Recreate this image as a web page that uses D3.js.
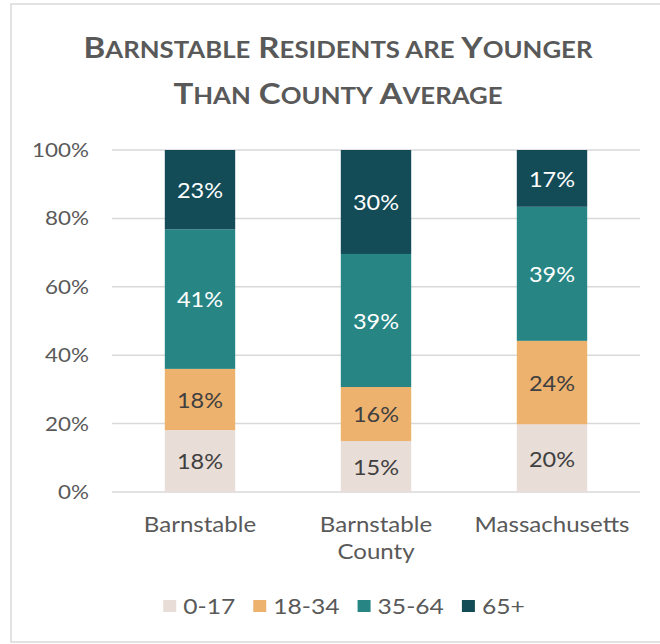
<!DOCTYPE html>
<html><head><meta charset="utf-8">
<script src="https://cdn.jsdelivr.net/npm/d3@7"></script>
<style>body{margin:0;background:#fff} svg{display:block}</style>
</head><body>
<script>
// ---- data ----
const categories = ["Barnstable", "Barnstable County", "Massachusetts"];
const ageGroups = ["0-17", "18-34", "35-64", "65+"];
const age0to17  = [18.1, 14.9, 19.8];
const age18to34 = [17.9, 15.8, 24.4];
const age35to64 = [40.8, 38.9, 39.2];
const age65plus = [23.2, 30.4, 16.6];
const yTicks = [0, 20, 40, 60, 80, 100];
const titleLines = ["Barnstable Residents are Younger", "Than County Average"];

const seriesValues = [age0to17, age18to34, age35to64, age65plus];
const colors = ["#E8DDD7", "#EEB26F", "#278584", "#134B57"];
const labelColors = ["#404040", "#404040", "#ffffff", "#ffffff"];

const SX = 1.12; // horizontal text stretch seen in the reference
function stretch(sel) {
  sel.each(function() {
    const t = d3.select(this);
    const x = +t.attr("x") || 0, y = +t.attr("y") || 0;
    t.attr("x", 0).attr("y", 0).attr("transform", `translate(${x},${y}) scale(${SX},1)`);
    t.selectAll("tspan").attr("x", function() { return d3.select(this).attr("x") != null ? 0 : null; });
  });
}

const W = 660, H = 644;
const svg = d3.select("body").append("svg").attr("width", W).attr("height", H);

// frame
svg.append("rect").attr("x", 11).attr("y", 4).attr("width", 700).attr("height", 638)
  .attr("fill", "#fff").attr("stroke", "#d9d9d9").attr("stroke-width", 1.5);

// title (manual small caps)
const title = svg.append("g");
const titleFS = 29.5;
titleLines.forEach((line, li) => {
  const t = title.append("text").attr("x", 338).attr("y", 58 + li * 46)
    .attr("text-anchor", "middle").attr("fill", "#595959")
    .style("font-family", "Lato").style("font-weight", 700);
  line.split(" ").forEach((word, wi) => {
    const first = word[0], rest = word.slice(1);
    const isUpper = first === first.toUpperCase();
    t.append("tspan").style("font-size", (isUpper ? titleFS : titleFS * 0.78) + "px")
      .text((wi > 0 ? " " : "") + first.toUpperCase());
    if (rest) t.append("tspan").style("font-size", titleFS * 0.78 + "px").text(rest.toUpperCase());
  });
});
stretch(title.selectAll("text"));

// scales
const x = d3.scaleBand().domain(categories).range([112, 640]).paddingInner(0.6).paddingOuter(0.3);
const y = d3.scaleLinear().domain([0, 100]).range([492, 150]);

// gridlines
svg.append("g").selectAll("line").data(yTicks).join("line")
  .attr("x1", 112).attr("x2", 640).attr("y1", d => y(d)).attr("y2", d => y(d))
  .attr("stroke", "#d9d9d9").attr("stroke-width", 1.5);

// y axis
const yAxis = svg.append("g").attr("transform", "translate(112,0)")
  .call(d3.axisLeft(y).tickValues(yTicks).tickSize(0).tickPadding(23).tickFormat(d => d + "%"));
yAxis.select(".domain").remove();
yAxis.selectAll("text").style("font-family", "Lato").style("font-size", "20px").attr("fill", "#595959");
stretch(yAxis.selectAll("text"));

// stack
const rows = categories.map((c, i) => {
  const r = { category: c };
  ageGroups.forEach((g, k) => r[g] = seriesValues[k][i]);
  return r;
});
const stacked = d3.stack().keys(ageGroups)(rows);

const layers = svg.append("g").selectAll("g").data(stacked).join("g")
  .attr("fill", (d, i) => colors[i]);
layers.selectAll("rect").data(d => d).join("rect")
  .attr("x", d => x(d.data.category)).attr("width", x.bandwidth())
  .attr("y", d => y(d[1])).attr("height", d => y(d[0]) - y(d[1]));

// value labels
const lbls = svg.append("g").selectAll("g").data(stacked).join("g");
lbls.each(function(layer, i) {
  d3.select(this).selectAll("text").data(layer).join("text")
    .attr("x", d => x(d.data.category) + x.bandwidth() / 2)
    .attr("y", d => (y(d[0]) + y(d[1])) / 2 + 1)
    .attr("dy", "0.35em").attr("text-anchor", "middle")
    .style("font-family", "Lato").style("font-size", "21px")
    .attr("fill", labelColors[i])
    .text(d => Math.round(d[1] - d[0]) + "%");
});
stretch(lbls.selectAll("text"));

// category labels (wrapped)
const catG = svg.append("g");
categories.forEach(c => {
  const words = c.split(" ");
  const lines = (c.length > 14) ? words : [c];
  const t = catG.append("text").attr("x", x(c) + x.bandwidth() / 2).attr("y", 532)
    .attr("text-anchor", "middle").attr("fill", "#595959")
    .style("font-family", "Lato").style("font-size", "21.5px");
  lines.forEach((l, i) => t.append("tspan").attr("x", 0).attr("dy", i ? 27 : 0).text(l));
});
stretch(catG.selectAll("text"));

// legend
const leg = svg.append("g");
const GAP = 18;
let lx = 0;
ageGroups.forEach((g, i) => {
  const gi = leg.append("g");
  gi.append("rect").attr("x", 0).attr("y", 600).attr("width", 13).attr("height", 12).attr("fill", colors[i]);
  const tx = gi.append("text").attr("x", 20).attr("y", 614).attr("fill", "#595959")
    .style("font-family", "Lato").style("font-size", "22px").text(g);
  const w = 20 + tx.node().getComputedTextLength() * SX;
  stretch(tx);
  gi.attr("transform", `translate(${lx},0)`);
  lx += w + GAP;
});
const total = lx - GAP;
leg.attr("transform", `translate(${344 - total / 2},0)`);
</script>
</body></html>
